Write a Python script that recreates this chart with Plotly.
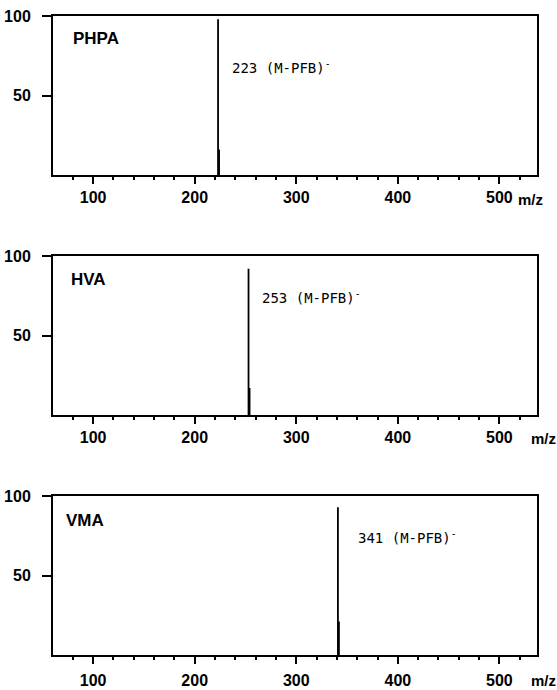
import plotly.graph_objects as go

# ---- data ----
compounds = ["PHPA", "HVA", "VMA"]
ion_labels = ["223 (M-PFB)<sup>-</sup>", "253 (M-PFB)<sup>-</sup>", "341 (M-PFB)<sup>-</sup>"]
peak_mz = [[223, 224], [253, 254], [341, 342]]
peak_intensity = [[98, 16], [92, 17], [93, 21]]
x_ticks = [100, 200, 300, 400, 500]
x_tick_text = ["100", "200", "300", "400", "500"]
y_ticks = [50, 100]
y_tick_text = ["50", "100"]
x_range = [60.5, 537]
y_range = [0, 100]

W, H = 557, 690
# panel pixel geometry (top, bottom) and x (left, right)
panel_px = [(16, 175), (256, 415), (496, 655)]
x_px = (53, 537)
name_pos = [(0.037, 0.858), (0.033, 0.855), (0.023, 0.849)]
ion_pos = [(0.366, 0.679), (0.428, 0.742), (0.626, 0.742)]
mz_pos = [(530, 200), (543, 438), (543, 680)]
x_standoff = [0, 0, 3]

tick_font = dict(family="Liberation Sans, Arial, sans-serif", size=16, color="black", weight="bold")

fig = go.Figure()
annotations = []
for i in range(3):
    xs, ys = [], []
    for m, v in zip(peak_mz[i], peak_intensity[i]):
        xs += [m, m, None]
        ys += [0, v, None]
    sfx = "" if i == 0 else str(i + 1)
    fig.add_trace(go.Scatter(x=xs, y=ys, mode="lines",
                             line=dict(color="black", width=1.8),
                             xaxis="x" + sfx, yaxis="y" + sfx,
                             showlegend=False, hoverinfo="skip"))
    top, bot = panel_px[i]
    ydom = [1 - bot / H, 1 - top / H]
    xdom = [x_px[0] / W, x_px[1] / W]
    fig.layout["xaxis" + sfx] = dict(
        domain=xdom, range=x_range, anchor="y" + sfx,
        tickvals=x_ticks, ticktext=x_tick_text, ticks="outside",
        ticklen=7, tickwidth=2, tickcolor="black",
        minor=dict(dtick=20, tick0=0, ticks="outside", ticklen=3, tickwidth=1.5, tickcolor="black"),
        showline=True, linecolor="black", linewidth=2, mirror=True,
        showgrid=False, zeroline=False, tickfont=tick_font,
        ticklabelstandoff=x_standoff[i], automargin=False,
    )
    fig.layout["yaxis" + sfx] = dict(
        domain=ydom, range=y_range, anchor="x" + sfx,
        tickvals=y_ticks, ticktext=y_tick_text, ticks="outside",
        ticklen=9, tickwidth=2, tickcolor="black",
        showline=True, linecolor="black", linewidth=2, mirror=True,
        showgrid=False, zeroline=False, tickfont=tick_font,
        ticklabelstandoff=8, automargin=False,
    )
    annotations.append(dict(
        text=compounds[i], xref="x" + sfx + " domain", yref="y" + sfx + " domain",
        x=name_pos[i][0], y=name_pos[i][1], xanchor="left", yanchor="middle",
        showarrow=False,
        font=dict(family="Liberation Sans, Arial, sans-serif", size=17, color="black", weight="bold")))
    annotations.append(dict(
        text=ion_labels[i], xref="x" + sfx + " domain", yref="y" + sfx + " domain",
        x=ion_pos[i][0], y=ion_pos[i][1], xanchor="left", yanchor="middle",
        showarrow=False,
        font=dict(family="DejaVu Sans Mono, monospace", size=14, color="black")))
    annotations.append(dict(
        text="m/z", xref="paper", yref="paper",
        x=mz_pos[i][0] / W, y=1 - mz_pos[i][1] / H, xanchor="center", yanchor="middle",
        showarrow=False,
        font=dict(family="Liberation Sans, Arial, sans-serif", size=15, color="black", weight="bold")))

fig.update_layout(
    width=W, height=H, margin=dict(l=0, r=0, t=0, b=0, autoexpand=False),
    paper_bgcolor="white", plot_bgcolor="white",
    annotations=annotations,
)
fig.write_html("out.html", config={"displayModeBar": False},
               post_script="document.body.style.margin='0';")
